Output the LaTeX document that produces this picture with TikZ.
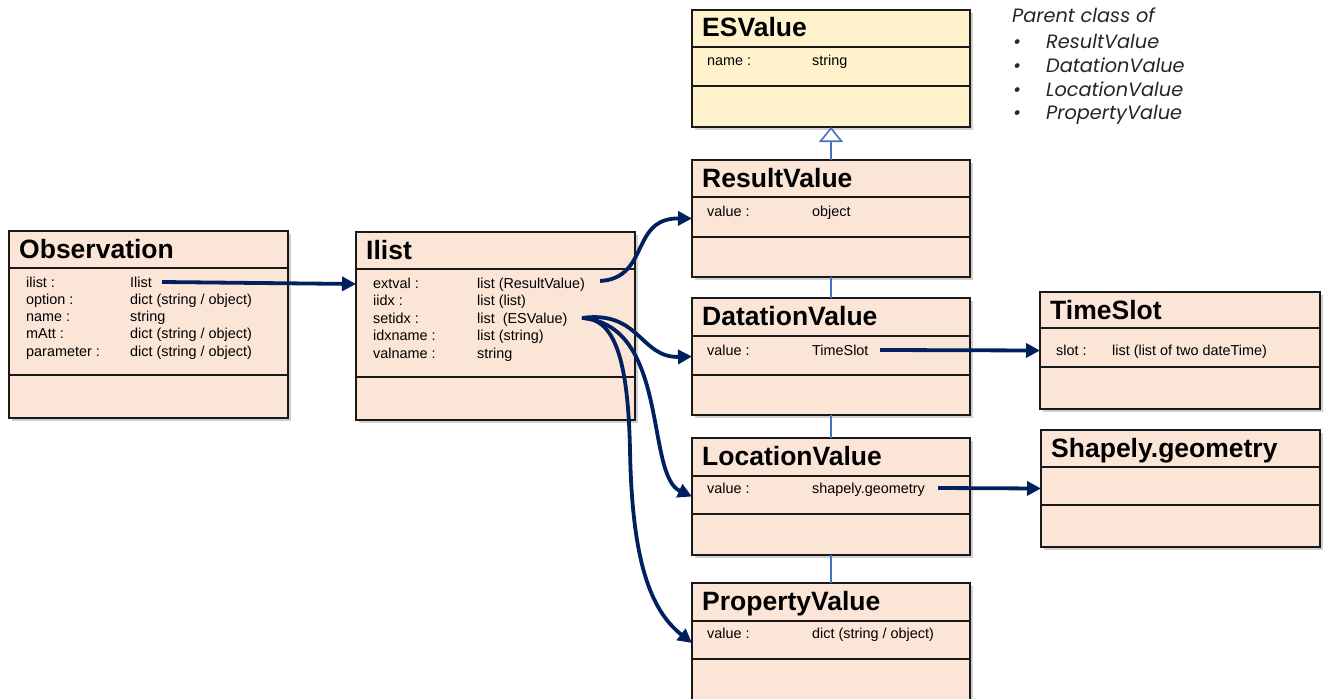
\documentclass[tikz,border=0pt]{standalone}
\usepackage{fontspec}
\setmainfont{Liberation Sans}
\newfontfamily\gothic{Poppins}
\usetikzlibrary{arrows.meta,shadows,calc}
\definecolor{pinkfill}{HTML}{FBE5D6}
\definecolor{yellowfill}{HTML}{FFF2CC}
\definecolor{navy}{HTML}{002060}
\definecolor{umlblue}{HTML}{4472C4}
\tikzset{
  umlbox/.style={draw=black!90, line width=2.4pt, rectangle, inner sep=0pt, outer sep=0pt,
    drop shadow={shadow xshift=3pt, shadow yshift=-3pt, opacity=0.3, fill=black!60}},
  sepline/.style={black!90, line width=2pt},
  titletext/.style={anchor=base west, inner sep=0pt, font=\fontsize{26.5}{30}\selectfont\bfseries},
  attr/.style={anchor=base west, inner sep=0pt, font=\fontsize{14.4}{17}\selectfont},
  conn/.style={navy, line width=3.8pt, -{Triangle[length=14pt,width=14pt]}},
  link/.style={umlblue, line width=1.6pt},
  note/.style={anchor=base west, inner sep=0pt, font=\gothic\itshape\fontsize{19.3}{22}\selectfont, text=black!85},
}
% name, x, y, width, height, sep1, sep2, fill, title
\newcommand\umlclass[9]{%
  \node[umlbox, fill=#8, minimum width=#4pt, minimum height=#5pt, anchor=north west] (#1) at (#2,#3) {};
  \draw[sepline] ($(#1.north west)+(0,#6)$) -- ($(#1.north east)+(0,#6)$);
  \draw[sepline] ($(#1.north west)+(0,#7)$) -- ($(#1.north east)+(0,#7)$);
  \node[titletext] (#1-title) at ($(#1.north west)+(10,27)$) {#9};
}
\begin{document}
\begin{tikzpicture}[x=1pt,y=-1pt]
\clip (0,0) rectangle (1329,698);
\fill[white] (0,0) rectangle (1329,698);

% classes
\umlclass{obs}{9}{231}{279}{187}{37}{144}{pinkfill}{Observation}
\umlclass{ilist}{356}{232}{279}{188}{37}{145}{pinkfill}{Ilist}
\umlclass{esv}{692}{10}{278}{117}{37}{76}{yellowfill}{ESValue}
\umlclass{res}{692}{160}{278}{117}{37}{77}{pinkfill}{ResultValue}
\umlclass{dat}{692}{298}{278}{117}{38}{77}{pinkfill}{DatationValue}
\umlclass{loc}{692}{438}{278}{117}{38}{76}{pinkfill}{LocationValue}
\umlclass{prop}{692}{583}{278}{120}{38}{76}{pinkfill}{PropertyValue}
\umlclass{ts}{1040}{292}{280}{117}{36}{75}{pinkfill}{TimeSlot}
\umlclass{shp}{1041}{430}{279}{117}{37}{75}{pinkfill}{Shapely.geometry}

% vertical links
\draw[link, -{Triangle[open,length=15pt,width=24pt,fill=white]}] (res.north) -- (esv.south);
\draw[link] (res.south) -- (dat.north);
\draw[link] (dat.south) -- (loc.north);
\draw[link] (loc.south) -- (prop.north);

% Observation attributes
\node[attr] (obs-k1) at (26,287) {ilist :};
\node[attr] (obs-v1) at (130,287) {Ilist};
\node[attr] (obs-k2) at (26,304.3) {option :};
\node[attr] (obs-v2) at (130,304.3) {dict (string / object)};
\node[attr] (obs-k3) at (26,321.6) {name :};
\node[attr] (obs-v3) at (130,321.6) {string};
\node[attr] (obs-k4) at (26,338.9) {mAtt :};
\node[attr] (obs-v4) at (130,338.9) {dict (string / object)};
\node[attr] (obs-k5) at (26,356.2) {parameter :};
\node[attr] (obs-v5) at (130,356.2) {dict (string / object)};

% Ilist attributes
\node[attr] (il-k1) at (373,288) {extval :};
\node[attr] (il-v1) at (477,288) {list (ResultValue)};
\node[attr] (il-k2) at (373,305.5) {iidx :};
\node[attr] (il-v2) at (477,305.5) {list (list)};
\node[attr] (il-k3) at (373,323) {setidx :};
\node[attr] (il-v3) at (477,323) {list\ \ (ESValue)};
\node[attr] (il-k4) at (373,340.5) {idxname :};
\node[attr] (il-v4) at (477,340.5) {list (string)};
\node[attr] (il-k5) at (373,358) {valname :};
\node[attr] (il-v5) at (477,358) {string};

% value classes attributes
\node[attr] (esv-k1) at (707,66) {name :};
\node[attr] (esv-v1) at (812,66) {string};
\node[attr] (res-k1) at (707,216) {value :};
\node[attr] (res-v1) at (812,216) {object};
\node[attr] (dat-k1) at (707,355) {value :};
\node[attr] (dat-v1) at (812,355) {TimeSlot};
\node[attr] (loc-k1) at (707,493) {value :};
\node[attr] (loc-v1) at (812,493) {shapely.geometry};
\node[attr] (prop-k1) at (707,638) {value :};
\node[attr] (prop-v1) at (812,638) {dict (string / object)};
\node[attr] (ts-k1) at (1056,355) {slot :};
\node[attr] (ts-v1) at (1112,355) {list (list of two dateTime)};

% note
\node[note] (n0) at (1012,23) {Parent class of};
\node[note] (b1) at (1013,49) {•};
\node[note] (n1) at (1046,49) {ResultValue};
\node[note] (b2) at (1013,73) {•};
\node[note] (n2) at (1046,73) {DatationValue};
\node[note] (b3) at (1013,96) {•};
\node[note] (n3) at (1046,96) {LocationValue};
\node[note] (b4) at (1013,119) {•};
\node[note] (n4) at (1046,119) {PropertyValue};

% connectors
\coordinate (obsA) at (162,282);
\coordinate (ilistIn) at (356,284);
\coordinate (ilA) at (600,281);
\coordinate (ilB) at (582,318);
\coordinate (datA) at (880,350);
\coordinate (locA) at (938,488);

\draw[conn] (obsA) -- (ilistIn);
\draw[conn] (ilA) .. controls (650,278) and (630,218) .. (res.west);
\draw[conn] (ilB) .. controls (640,310) and (640,358) .. (dat.west);
\draw[conn] (ilB) .. controls (670,325) and (645,475) .. (loc.west);
\draw[conn] (ilB) .. controls (615,318) and (628,360) .. (630,450) .. controls (632,560) and (650,610) .. (prop.west);
\draw[conn] (datA) -- (ts.west);
\draw[conn] (locA) -- (shp.west);
\end{tikzpicture}
\end{document}
